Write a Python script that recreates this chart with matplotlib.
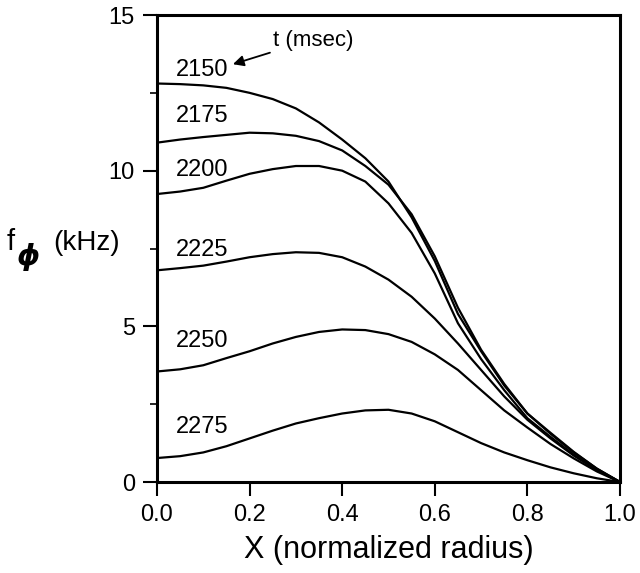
import numpy as np
import matplotlib.pyplot as plt
from matplotlib.ticker import MultipleLocator

plt.rcParams['font.family'] = ['Liberation Sans', 'DejaVu Sans']

# normalized radius grid (every 0.05)
x = [0.0, 0.05, 0.1, 0.15, 0.2, 0.25, 0.3, 0.35, 0.4, 0.45, 0.5,
     0.55, 0.6, 0.65, 0.7, 0.75, 0.8, 0.85, 0.9, 0.95, 1.0]

times = ['2150', '2175', '2200', '2225', '2250', '2275']

f2150 = [12.8, 12.78, 12.74, 12.66, 12.5, 12.3, 12.0, 11.55, 11.0, 10.4, 9.65,
         8.5, 7.1, 5.4, 4.2, 3.1, 2.2, 1.55, 0.95, 0.43, 0.0]
f2175 = [10.9, 11.0, 11.08, 11.15, 11.22, 11.2, 11.12, 10.95, 10.65, 10.15, 9.55,
         8.6, 7.25, 5.6, 4.25, 3.15, 2.2, 1.58, 0.97, 0.43, 0.0]
f2200 = [9.25, 9.33, 9.45, 9.68, 9.9, 10.05, 10.15, 10.15, 10.0, 9.65, 8.95,
         8.0, 6.7, 5.1, 3.95, 2.95, 2.05, 1.45, 0.88, 0.4, 0.0]
f2225 = [6.8, 6.87, 6.95, 7.08, 7.22, 7.32, 7.38, 7.36, 7.22, 6.92, 6.5,
         5.95, 5.25, 4.45, 3.6, 2.75, 2.0, 1.4, 0.85, 0.38, 0.0]
f2250 = [3.55, 3.62, 3.75, 3.98, 4.2, 4.45, 4.66, 4.82, 4.9, 4.88, 4.75,
         4.5, 4.1, 3.6, 2.95, 2.3, 1.75, 1.22, 0.76, 0.34, 0.0]
f2275 = [0.77, 0.83, 0.95, 1.15, 1.4, 1.65, 1.88, 2.05, 2.2, 2.3, 2.32,
         2.2, 1.95, 1.6, 1.25, 0.95, 0.7, 0.47, 0.28, 0.12, 0.0]
curves = [f2150, f2175, f2200, f2225, f2250, f2275]

# label positions (left edge x, centre y) in data units
lab_x = [0.04, 0.04, 0.04, 0.04, 0.04, 0.04]
lab_y = [13.24, 11.76, 10.03, 7.44, 4.52, 1.76]

fig = plt.figure(figsize=(6.4, 5.73), dpi=100)
ax = fig.add_axes([0.2453, 0.1588, 0.7234, 0.815])

for f in curves:
    ax.plot(x, f, color='black', lw=1.6, solid_joinstyle='round')

for t, lx, ly in zip(times, lab_x, lab_y):
    ax.text(lx, ly, t, fontsize=17, ha='left', va='center')

ax.text(0.25, 14.17, 't (msec)', fontsize=16, ha='left', va='center')
ax.annotate('', xy=(0.164, 13.42), xytext=(0.244, 13.79),
            arrowprops=dict(arrowstyle='-|>', color='black', lw=1.3,
                            mutation_scale=16, shrinkA=0, shrinkB=0))

ax.set_xlim(0, 1.0)
ax.set_ylim(0, 15)
ax.yaxis.set_major_locator(MultipleLocator(5))
ax.yaxis.set_minor_locator(MultipleLocator(2.5))
ax.set_xticks([0.0, 0.2, 0.4, 0.6, 0.8, 1.0])
ax.set_xticklabels(['0.0', '0.2', '0.4', '0.6', '0.8', '1.0'])

ax.tick_params(axis='both', which='major', direction='out', length=10,
               width=1.5, labelsize=17, pad=6)
ax.tick_params(axis='y', which='minor', direction='out', length=5, width=1.2)
for s in ax.spines.values():
    s.set_linewidth(2.2)

ax.set_xlabel('X (normalized radius)', fontsize=22, labelpad=6)

# y label drawn horizontally: f, subscript phi, (kHz)
fig.text(0.011, 0.5637, 'f', fontsize=21, ha='left', va='baseline')
fig.text(0.027, 0.552, '\u03d5', fontsize=21, ha='left', va='center',
         family='DejaVu Sans', style='italic', weight='bold')
fig.text(0.083, 0.5637, '(kHz)', fontsize=20, ha='left', va='baseline')

fig.savefig('out.png', dpi=100)
